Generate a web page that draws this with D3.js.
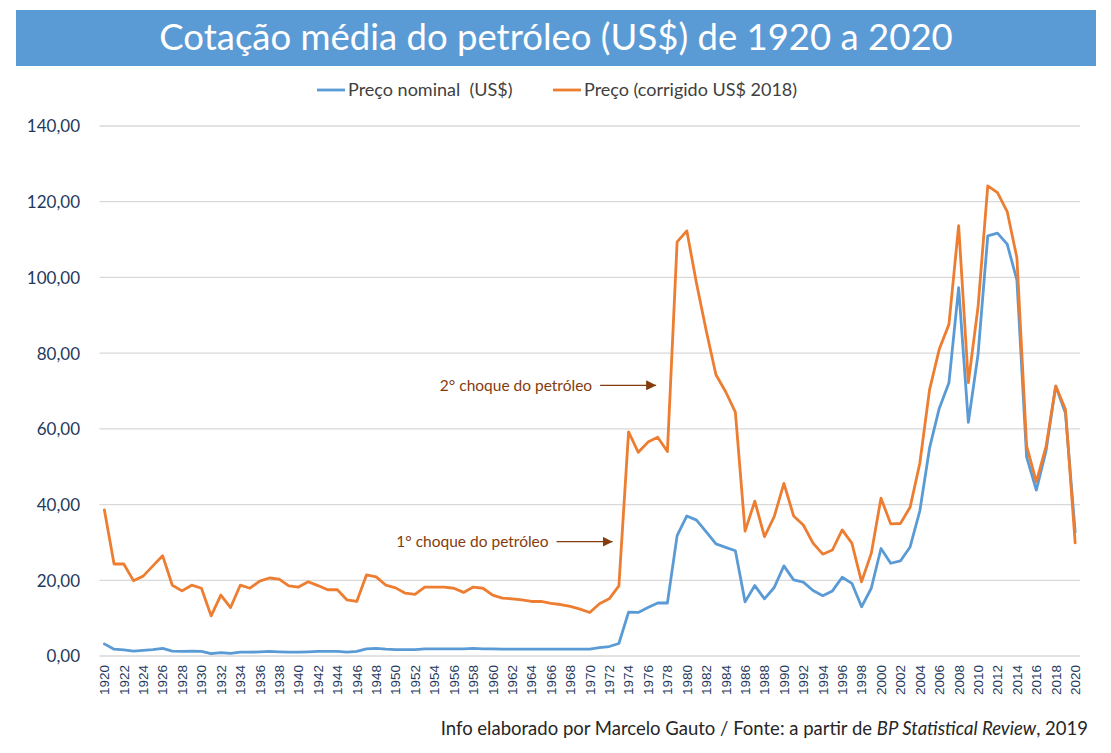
<!DOCTYPE html>
<html>
<head>
<meta charset="utf-8">
<script src="https://cdn.jsdelivr.net/npm/d3@7"></script>
<style>
  html, body { margin: 0; padding: 0; background: #fff; }
  svg { display: block; }
</style>
</head>
<body>
<svg id="chart" width="1111" height="753"></svg>
<script>
const years = d3.range(1920, 2021);
const nominal = [
  3.2, 1.8, 1.6, 1.3, 1.5, 1.7, 2.0, 1.3, 1.2, 1.3,
  1.2, 0.65, 0.9, 0.7, 1.0, 1.0, 1.1, 1.2, 1.1, 1.0,
  1.0, 1.1, 1.2, 1.2, 1.2, 1.05, 1.2, 1.9, 2.0, 1.8,
  1.7, 1.7, 1.7, 1.9, 1.9, 1.9, 1.9, 1.9, 2.0, 1.9,
  1.9, 1.8, 1.8, 1.8, 1.8, 1.8, 1.8, 1.8, 1.8, 1.8,
  1.8, 2.2, 2.5, 3.3, 11.6, 11.5, 12.8, 14.0, 14.0, 31.8,
  37.0, 35.9, 32.8, 29.6, 28.7, 27.8, 14.3, 18.6, 15.1, 18.1,
  23.8, 20.1, 19.5, 17.3, 15.9, 17.2, 20.8, 19.2, 13.0, 17.9,
  28.4, 24.5, 25.1, 28.8, 38.3, 54.9, 65.4, 72.2, 97.3, 61.7,
  79.7, 111.0, 111.7, 108.8, 99.3, 52.6, 43.8, 54.2, 71.3, 64.2,
  32.8
];
const real2018 = [
  38.6, 24.3, 24.3, 19.9, 21.1, 23.8, 26.5, 18.7, 17.2, 18.7,
  17.9, 10.6, 16.1, 12.8, 18.7, 17.9, 19.8, 20.6, 20.3, 18.5,
  18.2, 19.6, 18.6, 17.5, 17.5, 14.8, 14.4, 21.4, 20.9, 18.7,
  18.0, 16.6, 16.3, 18.2, 18.2, 18.2, 17.9, 16.8, 18.2, 17.9,
  16.1, 15.3, 15.1, 14.8, 14.4, 14.4, 13.9, 13.6, 13.1, 12.4,
  11.5, 13.8, 15.1, 18.5, 59.2, 53.8, 56.5, 57.8, 54.0, 109.4,
  112.3, 98.4, 85.9, 74.3, 69.8, 64.4, 33.0, 40.9, 31.5, 36.8,
  45.6, 37.0, 34.6, 29.8, 26.9, 28.0, 33.3, 29.8, 19.6, 27.1,
  41.7, 34.9, 35.0, 39.3, 50.9, 70.3, 81.0, 87.6, 113.7, 72.2,
  92.3, 124.2, 122.4, 117.4, 105.2, 55.5, 46.0, 55.3, 71.3, 65.2,
  29.9
];
const yTicks = [0, 20, 40, 60, 80, 100, 120, 140];
const seriesNames = ["Preço nominal  (US$)", "Preço (corrigido US$ 2018)"];
const titleText = "Cotação média do petróleo (US$) de 1920 a 2020";
const annotations = [
  { label: "2° choque do petróleo", year: 1979, value: 71.5, gap: 21 },
  { label: "1° choque do petróleo", year: 1974, value: 30.2, gap: 16 }
];

const svg = d3.select("#chart");
const W = 1111, H = 753;
const margin = { left: 99.5, right: 31, top: 126, bottom: 97 };
const plotL = margin.left, plotR = W - margin.right;
const y0 = 656, yTop = 126;

const blue = "#5b9bd5", orange = "#ed7d31", brown = "#843c0c";
const font = "Lato, 'Open Sans', sans-serif";

// Title banner
svg.append("rect").attr("x", 16).attr("y", 10).attr("width", 1080).attr("height", 56).attr("fill", blue);
svg.append("text").attr("x", 556).attr("y", 50).attr("text-anchor", "middle")
  .attr("font-family", font).attr("font-size", 36.5).attr("fill", "#fff")
  .text(titleText);

const x = d3.scaleBand().domain(years).range([plotL, plotR]).paddingInner(0).paddingOuter(0);
const xc = d => x(d) + x.bandwidth() / 2;
const y = d3.scaleLinear().domain([0, 140]).range([y0, yTop]);

// gridlines
svg.append("g").selectAll("line").data(yTicks).join("line")
  .attr("x1", plotL).attr("x2", plotR)
  .attr("y1", d => y(d)).attr("y2", d => y(d))
  .attr("stroke", "#d9d9d9").attr("stroke-width", 1.3);

// y axis
const yAxis = d3.axisLeft(y).tickValues(yTicks).tickSize(0).tickPadding(0)
  .tickFormat(d => d3.format(".2f")(d).replace(".", ","));
const gy = svg.append("g").attr("transform", `translate(80,0)`).call(yAxis);
gy.select(".domain").remove();
gy.selectAll("text").attr("font-family", font).attr("font-size", 17)
  .attr("fill", "#1f3a5f").attr("dy", "0.35em");

// x axis
const xAxis = d3.axisBottom(x).tickValues(years.filter(d => d % 2 === 0)).tickSize(0).tickPadding(0);
const gx = svg.append("g").attr("transform", `translate(0,${y0})`).call(xAxis);
gx.select(".domain").remove();
gx.selectAll("text")
  .attr("font-family", "'Liberation Sans', Arial, sans-serif").attr("font-size", 13.5)
  .attr("fill", "#1f3a5f")
  .attr("transform", "rotate(-90)")
  .attr("text-anchor", "end")
  .attr("x", -9).attr("y", 0).attr("dy", "0.36em");

// lines
const line = vals => d3.line().x((d, i) => xc(years[i])).y(d => y(d))(vals);
svg.append("path").attr("d", line(nominal)).attr("fill", "none").attr("stroke", blue)
  .attr("stroke-width", 2.8).attr("stroke-linejoin", "round").attr("stroke-linecap", "round");
svg.append("path").attr("d", line(real2018)).attr("fill", "none").attr("stroke", orange)
  .attr("stroke-width", 2.8).attr("stroke-linejoin", "round").attr("stroke-linecap", "round");

// legend
const legend = [
  { name: seriesNames[0], color: blue, x: 317 },
  { name: seriesNames[1], color: orange, x: 553 }
];
const lg = svg.append("g");
legend.forEach(l => {
  lg.append("line").attr("x1", l.x).attr("x2", l.x + 28).attr("y1", 90).attr("y2", 90)
    .attr("stroke", l.color).attr("stroke-width", 2.8);
  lg.append("text").attr("x", l.x + 31).attr("y", 90).attr("dy", "0.35em")
    .attr("font-family", font).attr("font-size", 18).attr("fill", "#404040")
    .style("white-space", "pre").attr("xml:space", "preserve")
    .text(l.name);
});

// annotations
const defs = svg.append("defs");
defs.append("marker").attr("id", "arr").attr("viewBox", "0 0 10 10").attr("refX", 10).attr("refY", 5)
  .attr("markerWidth", 10).attr("markerHeight", 10).attr("markerUnits", "userSpaceOnUse").attr("orient", "auto")
  .append("path").attr("d", "M0,0 L10,5 L0,10 Z").attr("fill", brown);
annotations.forEach(a => {
  const ax = xc(a.year) - a.gap;
  const ay = y(a.value);
  svg.append("line").attr("x1", ax - 56).attr("x2", ax).attr("y1", ay).attr("y2", ay)
    .attr("stroke", brown).attr("stroke-width", 1.3).attr("marker-end", "url(#arr)");
  svg.append("text").attr("x", ax - 64).attr("y", ay).attr("dy", "0.35em").attr("text-anchor", "end")
    .attr("font-family", font).attr("font-size", 15.5).attr("fill", brown)
    .text(a.label);
});

// footer
const ft = svg.append("text").attr("x", 1088).attr("y", 735).attr("text-anchor", "end")
  .attr("font-family", font).attr("font-size", 18.5).attr("fill", "#262626");
ft.append("tspan").text("Info elaborado por Marcelo Gauto / Fonte: a partir de ");
ft.append("tspan").attr("font-style", "italic").text("BP Statistical Review");
ft.append("tspan").text(", 2019");
</script>
</body>
</html>
